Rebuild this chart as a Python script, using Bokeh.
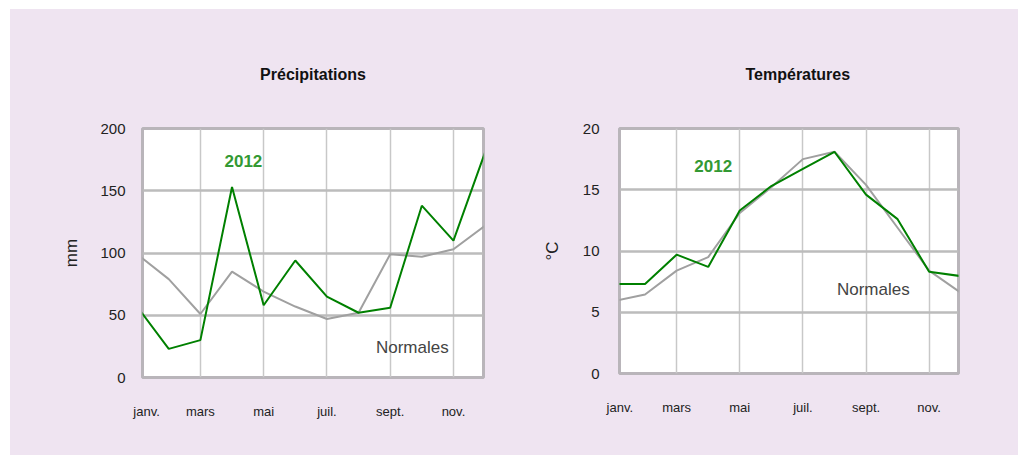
from bokeh.plotting import figure
from bokeh.layouts import row, column
from bokeh.models import Range1d, FixedTicker, Label, Spacer
from bokeh.embed import file_html
from bokeh.resources import INLINE

# ---- data ----
mois = ["janv.", "févr.", "mars", "avr.", "mai", "juin",
        "juil.", "août", "sept.", "oct.", "nov.", "déc."]
mois_idx = list(range(12))
pluie_2012 = [57, 23, 30, 153, 58, 94, 65, 52, 56, 138, 110, 181]
pluie_normales = [99, 79, 51, 85, 69, 57, 47, 52, 99, 97, 103, 122]
temp_2012 = [7.3, 7.3, 9.7, 8.7, 13.3, 15.3, 16.7, 18.1, 14.6, 12.6, 8.3, 7.95]
temp_normales = [5.9, 6.45, 8.4, 9.5, 13.1, 15.2, 17.5, 18.1, 15.4, 11.9, 8.4, 6.6]
tick_labels = ["janv.", "mars", "mai", "juil.", "sept.", "nov."]
pluie_ticks = [0, 50, 100, 150, 200]
temp_ticks = [0, 5, 10, 15, 20]

BG = "#efe4f1"
FONT = "Liberation Sans"
GREEN = "#008000"
GREY = "#a0a0a0"


def make_fig(title, xr, yr, fw, fh, bl, br, bt, bb, ylab, yticks, grid_y,
             first_tick, ystand, ylab_stand, talign, toff):
    p = figure(x_range=Range1d(*xr), y_range=Range1d(*yr),
               frame_width=fw, frame_height=fh,
               min_border_left=bl, min_border_right=br,
               min_border_top=bt, min_border_bottom=bb,
               output_backend="svg", toolbar_location=None,
               background_fill_color="white", border_fill_color=BG,
               outline_line_color="#b9b5ba", outline_line_width=3,
               title=title)
    p.title.align = talign
    p.title.offset = toff
    p.title.text_font = FONT
    p.title.text_font_size = "16px"
    p.title.text_font_style = "bold"
    p.title.text_color = "#111111"
    p.title.standoff = 92

    # x axis
    xt = [first_tick, 2, 4, 6, 8, 10]
    p.xaxis.ticker = FixedTicker(ticks=xt)
    p.xaxis.major_label_overrides = {t: l for t, l in zip(xt, tick_labels)}
    p.xaxis.axis_line_color = None
    p.xaxis.major_tick_line_color = None
    p.xaxis.minor_tick_line_color = None
    p.xaxis.major_label_text_font = FONT
    p.xaxis.major_label_text_font_size = "13px"
    p.xaxis.major_label_text_color = "#222222"
    p.xaxis.major_label_standoff = 20

    # y axis
    p.yaxis.ticker = FixedTicker(ticks=yticks)
    p.yaxis.axis_line_color = None
    p.yaxis.major_tick_line_color = None
    p.yaxis.minor_tick_line_color = None
    p.yaxis.major_label_text_font = FONT
    p.yaxis.major_label_text_font_size = "15px"
    p.yaxis.major_label_text_color = "#222222"
    p.yaxis.major_label_standoff = ystand
    p.yaxis.axis_label = ylab
    p.yaxis.axis_label_text_font = FONT
    p.yaxis.axis_label_text_font_size = "17px"
    p.yaxis.axis_label_text_font_style = "normal"
    p.yaxis.axis_label_text_color = "#222222"
    p.yaxis.axis_label_standoff = ylab_stand

    # grids
    p.ygrid.ticker = FixedTicker(ticks=grid_y)
    p.ygrid.grid_line_color = "#bcbcbc"
    p.ygrid.grid_line_width = 2.5
    p.xgrid.ticker = FixedTicker(ticks=[2, 4, 6, 8, 10])
    p.xgrid.grid_line_color = "#c8c8c8"
    p.xgrid.grid_line_width = 1.5
    return p


p1 = make_fig("Précipitations", (0.17, 10.95), (0, 200), 341, 249,
              132, 25, 119, 78, "mm", pluie_ticks, [50, 100, 150],
              0.3, 11, 16, "center", 0)
p1.line(mois_idx, pluie_normales, line_color=GREY, line_width=2)
p1.line(mois_idx, pluie_2012, line_color=GREEN, line_width=2)
p1.add_layout(Label(x=3.36, y=174, text="2012", text_color="#339933",
                    text_font=FONT, text_font_size="17px",
                    text_font_style="bold", text_align="center",
                    text_baseline="middle"))
p1.add_layout(Label(x=8.7, y=24, text="Normales", text_color="#444444",
                    text_font=FONT, text_font_size="17px",
                    text_align="center", text_baseline="middle"))

p2 = make_fig("Températures", (0.19, 10.93), (0, 20), 339, 245,
              111, 60, 119, 82, "°C", temp_ticks, [5, 10, 15],
              0.2, 14, 18, "left", 126)
p2.line(mois_idx, temp_normales, line_color=GREY, line_width=2)
p2.line(mois_idx, temp_2012, line_color=GREEN, line_width=2)
p2.add_layout(Label(x=3.16, y=16.95, text="2012", text_color="#339933",
                    text_font=FONT, text_font_size="17px",
                    text_font_style="bold", text_align="center",
                    text_baseline="middle"))
p2.add_layout(Label(x=8.23, y=6.85, text="Normales", text_color="#444444",
                    text_font=FONT, text_font_size="17px",
                    text_align="center", text_baseline="middle"))

panel = row(p1, p2, spacing=0, styles={"background-color": BG})
left_pad = Spacer(width=10, height=455 - 9, styles={"background-color": "white"})
top_pad = Spacer(width=1018, height=9, styles={"background-color": "white"})
layout = column(top_pad, row(left_pad, panel, spacing=0), spacing=0)
open("out.html", "w").write(file_html(layout, INLINE))
